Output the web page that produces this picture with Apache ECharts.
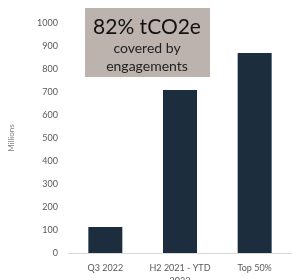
<!DOCTYPE html>
<html>
<head>
<meta charset="utf-8">
<script src="https://cdn.jsdelivr.net/npm/echarts@6/dist/echarts.min.js"></script>
<style>
    html, body { margin: 0; padding: 0; background: #fff; }
    #chart { width: 304px; height: 280px; }
</style>
</head>
<body>
<div id="chart"></div>
<script>
// Chart data
var categories = ['Q3 2022', 'H2 2021 - YTD\n2022', 'Top 50%'];
var values = [113, 709, 870];
var yTicks = [0, 1000, 100];   // min, max, interval

var chart = echarts.init(document.getElementById('chart'));

chart.setOption({
    animation: false,
    textStyle: {
        fontFamily: 'Lato, sans-serif'
    },

    // Setup grid
    grid: {
        left: 68,
        right: 12,
        top: 23,
        bottom: 27,
        outerBoundsMode: 'none'
    },

    // Horizontal axis
    xAxis: {
        type: 'category',
        data: categories,
        axisTick: { show: false },
        axisLine: {
            lineStyle: { color: '#d9d9d9', width: 1 }
        },
        axisLabel: {
            interval: 0,
            color: '#595959',
            fontSize: 9,
            margin: 9,
            lineHeight: 13
        }
    },

    // Vertical axis
    yAxis: {
        type: 'value',
        min: yTicks[0],
        max: yTicks[1],
        interval: yTicks[2],
        name: 'Millions',
        nameLocation: 'middle',
        nameGap: 53,
        nameRotate: 90,
        nameTextStyle: {
            color: '#7f7f7f',
            fontSize: 8
        },
        axisLine: { show: false },
        axisTick: { show: false },
        splitLine: { show: false },
        axisLabel: {
            color: '#595959',
            fontSize: 9,
            margin: 10,
            formatter: function(v) { return String(v); }
        }
    },

    // Annotation box
    graphic: [
        {
            type: 'rect',
            x: 85,
            y: 8,
            shape: { width: 125, height: 69 },
            style: { fill: '#bdb3ae' },
            z: 10
        },
        {
            type: 'text',
            x: 147,
            y: 27,
            style: {
                text: '82% tCO2e',
                fill: '#111',
                fontSize: 21,
                fontWeight: 'normal',
                align: 'center',
                verticalAlign: 'middle',
                fontFamily: 'Lato, sans-serif'
            },
            z: 11
        },
        {
            type: 'text',
            x: 147,
            y: 57,
            style: {
                text: 'covered by\nengagements',
                fill: '#222',
                fontSize: 14,
                lineHeight: 18,
                align: 'center',
                verticalAlign: 'middle',
                fontFamily: 'Lato, sans-serif'
            },
            z: 11
        }
    ],

    // Add series
    series: [{
        type: 'bar',
        data: values,
        barWidth: 34,
        itemStyle: { color: '#1c2e3d' }
    }]
});
</script>
</body>
</html>
